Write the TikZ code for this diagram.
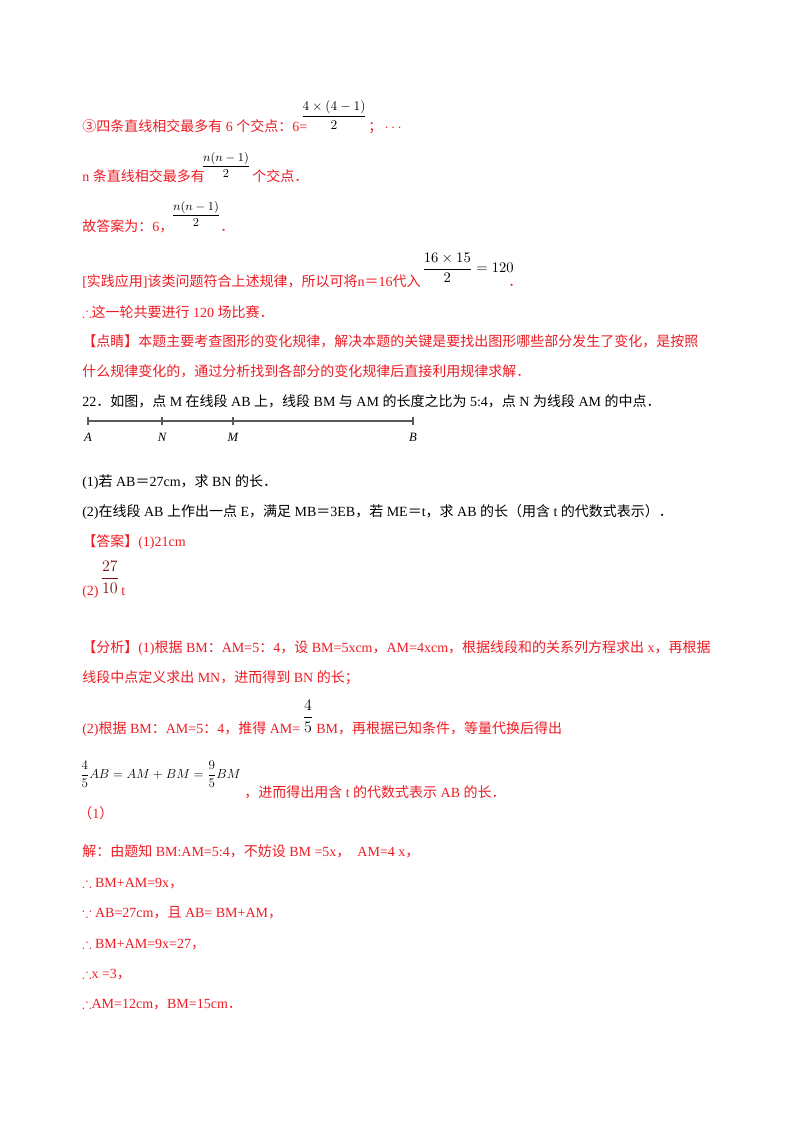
\documentclass[tikz,border=0pt]{standalone}
\usepackage{amsmath,amssymb}
\usepackage{fontspec}
\setmainfont{Liberation Serif}
\newfontfamily\cjk{Noto Sans CJK SC}
\usetikzlibrary{calc}
\definecolor{rd}{RGB}{238,28,36}
\newcommand{\zh}[1]{{\cjk #1}}
\begin{document}
\begin{tikzpicture}[x=0.75pt,y=-0.75pt,
  txt/.style={anchor=base west,inner sep=0,font=\fontsize{10.5}{12}\selectfont},
  red/.style={txt,text=rd},
  blk/.style={txt,text=black},
  frac/.style={anchor=center,inner sep=0,font=\fontsize{10}{12}\selectfont},
  lab/.style={anchor=base,inner sep=0,font=\fontsize{9.5}{11}\selectfont\itshape}]
\useasboundingbox[fill=white] (0,0) rectangle (800,1132);
% line 1
\node[red] (l1) at (82,131) {\zh{③四条直线相交最多有} 6 \zh{个交点：}6=};
\node[frac] (f1) at (334,115) {$\displaystyle\frac{4\times(4-1)}{2}$};
\node[red] (l1b) at (368,131) {\zh{；}\,$\cdots$};
% line 2
\node[red] (l2) at (82,181) {n \zh{条直线相交最多有}};
\node[frac,font=\fontsize{9}{10}\selectfont] (f2) at (226,165) {$\displaystyle\frac{n(n-1)}{2}$};
\node[red] (l2b) at (252,181) {\zh{个交点．}};
% line 3
\node[red] (l3) at (82,231) {\zh{故答案为：}6\zh{，}};
\node[frac,font=\fontsize{9}{10}\selectfont] (f3) at (196,214) {$\displaystyle\frac{n(n-1)}{2}$};
\node[red] (l3b) at (220,231) {\zh{．}};
% line 4
\node[red] (l4) at (82,286) {[\zh{实践应用}]\zh{该类问题符合上述规律，所以可将}n\zh{＝}16\zh{代入}};
\node[frac,font=\fontsize{10.5}{12}\selectfont] (f4) at (468,268) {$\displaystyle\frac{16\times15}{2}=120$};
\node[red] (l4b) at (508,286) {\zh{．}};
% line 5
\node[red] (l5) at (82,317) {$\therefore$\zh{这一轮共要进行} 120 \zh{场比赛．}};
\node[red] (l6) at (82,346) {\zh{【点睛】本题主要考查图形的变化规律，解决本题的关键是要找出图形哪些部分发生了变化，是按照}};
\node[red] (l7) at (82,376) {\zh{什么规律变化的，通过分析找到各部分的变化规律后直接利用规律求解．}};
% Q22
\node[blk] (q) at (82,406) {22\zh{．如图，点} M \zh{在线段} AB \zh{上，线段} BM \zh{与} AM \zh{的长度之比为} 5:4\zh{，点} N \zh{为线段} AM \zh{的中点．}};
\coordinate (A) at (88,421);
\coordinate (N) at (162,421);
\coordinate (M) at (233,421);
\coordinate (B) at (413,421);
\draw[gray!70!black,line width=0.9pt] (A) -- (B);
\foreach \p in {A,N,M,B}{\draw[gray!70!black,line width=0.9pt] ($(\p)+(0,-4)$) -- ($(\p)+(0,4)$);}
\node[lab] (lA) at (88,441) {A};
\node[lab] (lN) at (162,441) {N};
\node[lab] (lM) at (233,441) {M};
\node[lab] (lB) at (413,441) {B};
\node[blk] (p1) at (82,486) {(1)\zh{若} AB\zh{＝}27cm\zh{，求} BN \zh{的长．}};
\node[blk] (p2) at (82,516) {(2)\zh{在线段} AB \zh{上作出一点} E\zh{，满足} MB\zh{＝}3EB\zh{，若} ME\zh{＝}t\zh{，求} AB \zh{的长（用含} t \zh{的代数式表示）．}};
\node[red] (a1) at (82,546) {\zh{【答案】}(1)21cm};
\node[red] (a2) at (82,595) {(2)};
\node[frac,font=\fontsize{11.5}{13}\selectfont,text=rd!50!black] (f5) at (110,577) {$\displaystyle\frac{27}{10}$};
\node[red] (a2b) at (121,595) {t};
\node[red] (b1) at (82,652) {\zh{【分析】}(1)\zh{根据} BM\zh{：}AM=5\zh{：}4\zh{，设} BM=5xcm\zh{，}AM=4xcm\zh{，根据线段和的关系列方程求出} x\zh{，再根据}};
\node[red] (b2) at (82,682) {\zh{线段中点定义求出} MN\zh{，进而得到} BN \zh{的长；}};
\node[red] (b3) at (82,733) {(2)\zh{根据} BM\zh{：}AM=5\zh{：}4\zh{，推得} AM=};
\node[frac,font=\fontsize{11.5}{13}\selectfont] (f6) at (308,716) {$\displaystyle\frac{4}{5}$};
\node[red] (b3b) at (316,733) {BM\zh{，再根据已知条件，等量代换后得出}};
\node[frac,font=\fontsize{11.5}{13}\selectfont,anchor=west,scale=0.82] (f7) at (80,774) {$\displaystyle\frac{4}{5}AB=AM+BM=\frac{9}{5}BM$};
\node[red] (b4) at (244,797) {\zh{，进而得出用含} t \zh{的代数式表示} AB \zh{的长．}};
\node[red] (c0) at (78,818) {\zh{（}1\zh{）}};
\node[red] (c1) at (82,856) {\zh{解：由题知} BM:AM=5:4\zh{，不妨设} BM =5x\zh{，}\ \ AM=4 x\zh{，}};
\node[red] (c2) at (82,887) {$\therefore$ BM+AM=9x\zh{，}};
\node[red] (c3) at (82,917) {$\because$ AB=27cm\zh{，且} AB= BM+AM\zh{，}};
\node[red] (c4) at (82,948) {$\therefore$ BM+AM=9x=27\zh{，}};
\node[red] (c5) at (82,978) {$\therefore$x =3\zh{，}};
\node[red] (c6) at (82,1008) {$\therefore$AM=12cm\zh{，}BM=15cm\zh{．}};
\end{tikzpicture}
\end{document}
